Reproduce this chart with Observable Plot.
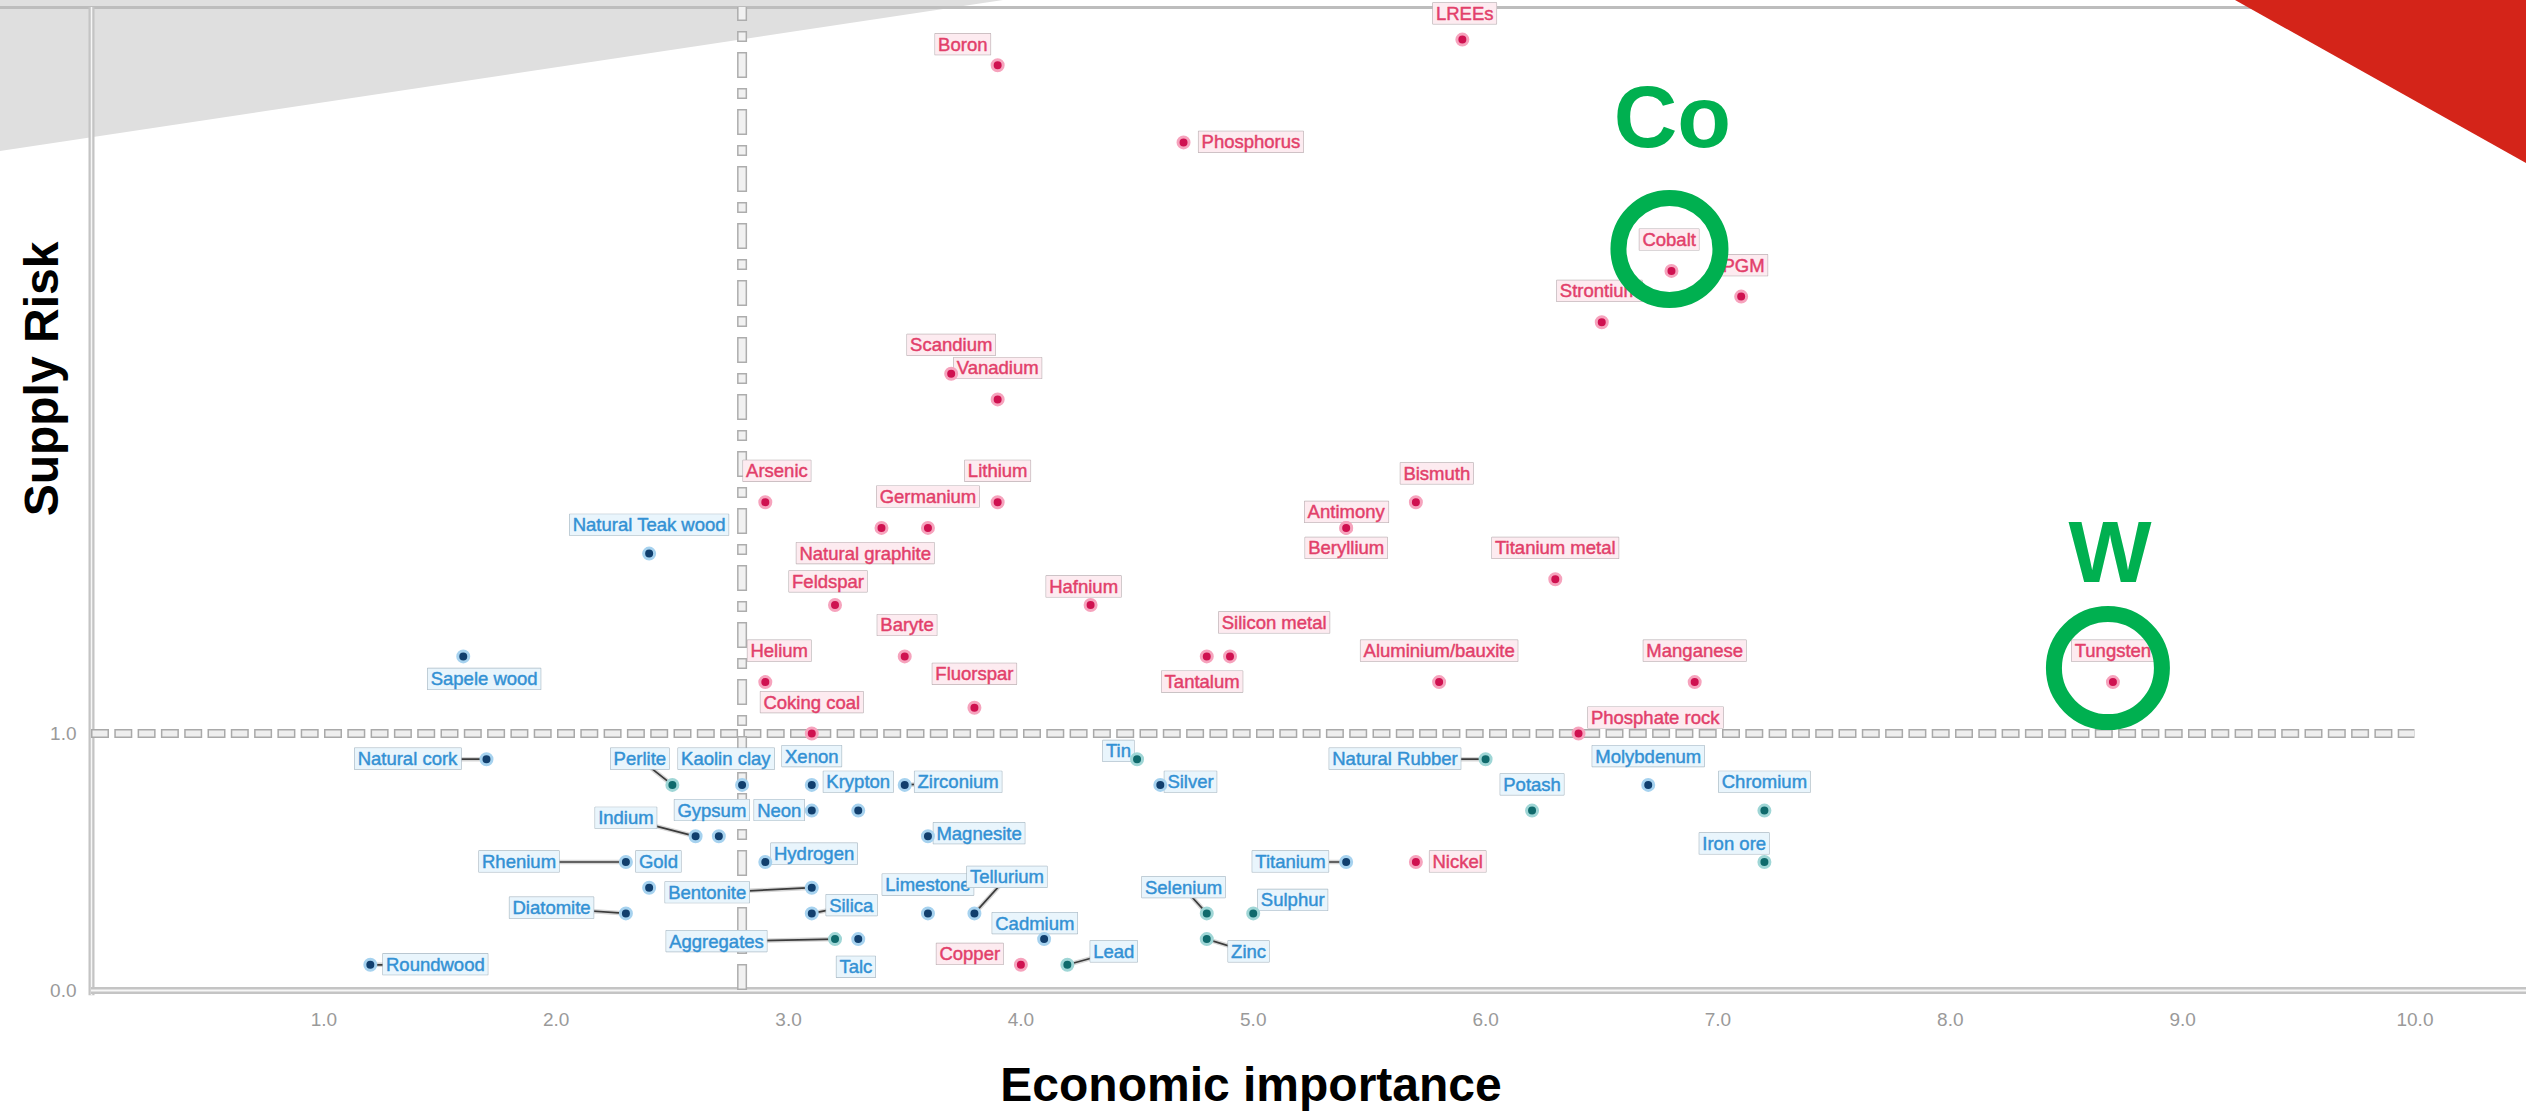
<!DOCTYPE html>
<html>
<head>
<meta charset="utf-8">
<script src="https://cdn.jsdelivr.net/npm/d3@7"></script>
<script src="https://cdn.jsdelivr.net/npm/@observablehq/plot@0.6"></script>
<style>
html, body { margin: 0; padding: 0; background: #fff; }
#wrap { position: relative; width: 2526px; height: 1114px; overflow: hidden; background: #fff; }
#grayTri { position: absolute; left: 0; top: 0; width: 1003px; height: 151px; background: #dfdfdf; clip-path: polygon(0 0, 100% 0, 0 100%); z-index: 0; }
#topLine { position: absolute; left: 0; top: 6px; width: 2526px; height: 3px; background: #bdbdbd; z-index: 1; }
#chart { position: absolute; left: 0; top: 0; z-index: 2; }
#redTri { position: absolute; right: 0; top: 0; width: 291px; height: 163px; background: #d42419; clip-path: polygon(0 0, 100% 0, 100% 100%); z-index: 3; }
</style>
</head>
<body>
<div id="wrap">
  <div id="grayTri"></div>
  <div id="topLine"></div>
  <div id="chart"></div>
  <div id="redTri"></div>
</div>
<script>
// ---------------- data ----------------
const criticalMaterials = ["LREEs","Boron","Phosphorus","Cobalt","PGM","Strontium","Scandium","Vanadium","Arsenic","Lithium","Germanium","Natural graphite","Feldspar","Hafnium","Baryte","Helium","Fluorspar","Coking coal","Bismuth","Antimony","Beryllium","Titanium metal","Silicon metal","Tantalum","Aluminium/bauxite","Manganese","Tungsten","Phosphate rock","Copper","Nickel"];
const otherMaterials = ["Natural Teak wood","Sapele wood","Natural cork","Perlite","Kaolin clay","Xenon","Krypton","Zirconium","Neon","Gypsum","Indium","Magnesite","Rhenium","Gold","Hydrogen","Bentonite","Silica","Diatomite","Limestone","Tellurium","Cadmium","Aggregates","Talc","Roundwood","Lead","Tin","Silver","Titanium","Selenium","Sulphur","Zinc","Natural Rubber","Potash","Molybdenum","Chromium","Iron ore"];
const materials = [...criticalMaterials, ...otherMaterials];

const economicImportance = [
  5.9, 3.9, 4.7, 6.8, 7.1, 6.5, 3.7, 3.9, 2.9, 3.9, 3.6, 3.4, 3.2, 4.3, 3.5, 2.9, 3.8, 3.1, 5.7, 5.4, 5.4, 6.3, 4.9, 4.8, 5.8, 6.9, 8.7, 6.4, 4.0, 5.7,
  2.4, 1.6, 1.7, 2.5, 2.8, 3.1, 3.3, 3.5, 3.1, 2.7, 2.6, 3.6, 2.3, 2.4, 2.9, 3.1, 3.1, 2.3, 3.6, 3.8, 4.1, 3.2, 3.3, 1.2, 4.2, 4.5, 4.6, 5.4, 4.8, 5.0, 4.8, 6.0, 6.2, 6.7, 7.2, 7.2
];
const supplyRisk = [
  3.7, 3.6, 3.3, 2.8, 2.7, 2.6, 2.4, 2.3, 1.9, 1.9, 1.8, 1.8, 1.5, 1.5, 1.3, 1.2, 1.1, 1.0, 1.9, 1.8, 1.8, 1.6, 1.3, 1.3, 1.2, 1.2, 1.2, 1.0, 0.1, 0.5,
  1.7, 1.3, 0.9, 0.8, 0.8, 0.8, 0.7, 0.8, 0.7, 0.6, 0.6, 0.6, 0.5, 0.4, 0.5, 0.4, 0.3, 0.3, 0.3, 0.3, 0.2, 0.2, 0.2, 0.1, 0.1, 0.9, 0.8, 0.5, 0.3, 0.3, 0.2, 0.9, 0.7, 0.8, 0.7, 0.5
];
// label anchor points (in data units: economic importance, supply risk)
const labelEI = [
  5.91, 3.75, 4.99, 6.79, 7.11, 6.49, 3.70, 3.90, 2.95, 3.90, 3.60, 3.33, 3.17, 4.27, 3.51, 2.96, 3.80, 3.10, 5.79, 5.40, 5.40, 6.30, 5.09, 4.78, 5.80, 6.90, 8.70, 6.73, 3.78, 5.88,
  2.40, 1.69, 1.36, 2.36, 2.73, 3.10, 3.30, 3.73, 2.96, 2.67, 2.30, 3.82, 1.84, 2.44, 3.11, 2.65, 3.27, 1.98, 3.60, 3.94, 4.06, 2.69, 3.29, 1.48, 4.40, 4.42, 4.73, 5.16, 4.70, 5.17, 4.98, 5.61, 6.20, 6.70, 7.20, 7.07
];
const labelSR = [
  3.80, 3.68, 3.30, 2.92, 2.82, 2.72, 2.51, 2.42, 2.02, 2.02, 1.92, 1.70, 1.59, 1.57, 1.42, 1.32, 1.23, 1.12, 2.01, 1.86, 1.72, 1.72, 1.43, 1.20, 1.32, 1.32, 1.32, 1.06, 0.14, 0.50,
  1.81, 1.21, 0.90, 0.90, 0.90, 0.91, 0.81, 0.81, 0.70, 0.70, 0.67, 0.61, 0.50, 0.50, 0.53, 0.38, 0.33, 0.32, 0.41, 0.44, 0.26, 0.19, 0.09, 0.10, 0.15, 0.93, 0.81, 0.50, 0.40, 0.35, 0.15, 0.90, 0.80, 0.91, 0.81, 0.57
];
const leaderLabels = ["Natural cork","Perlite","Zirconium","Neon","Indium","Rhenium","Hydrogen","Bentonite","Silica","Diatomite","Tellurium","Aggregates","Roundwood","Lead","Titanium","Selenium","Zinc","Natural Rubber"];
const thresholdEI = 2.8;
const thresholdSR = 1.0;
const xTicks = [1, 2, 3, 4, 5, 6, 7, 8, 9, 10];
const yTicks = [0, 1];
const highlighted = ["Cobalt", "Tungsten"];
const highlightText = ["Co", "W"];

// ---------------- styling ----------------
const tealDots = new Set(["Perlite","Potash","Chromium","Iron ore","Selenium","Lead","Zinc","Natural Rubber","Sulphur","Aggregates","Tin"]);
const rows = materials.map((name, i) => ({
  name,
  ei: economicImportance[i],
  sr: supplyRisk[i],
  critical: criticalMaterials.includes(name),
  lx: labelEI[i],
  ly: labelSR[i],
  leader: leaderLabels.includes(name)
}));
const core = d => d.critical ? "#cf1150" : (tealDots.has(d.name) ? "#0f6a6c" : "#113f6e");
const halo = d => d.critical ? "#f6a3bd" : (tealDots.has(d.name) ? "#9fd6d6" : "#a6d2ef");
const green = "#00b050";
const redText = "#e23f6a";
const blueText = "#3391d4";

const cobalt = rows.filter(d => d.name === highlighted[0]);
const tungsten = rows.filter(d => d.name === highlighted[1]);

const chart = Plot.plot({
  width: 2526,
  height: 1114,
  marginLeft: 91,
  marginRight: 0,
  marginTop: 7,
  marginBottom: 124,
  x: {domain: [0, 10.48]},
  y: {domain: [0, 3.825]},
  color: {type: "identity"},
  style: {background: "transparent", fontFamily: "'Liberation Sans', Arial, sans-serif", overflow: "visible"},
  marks: [
    // frame lines
    Plot.ruleX([0], {y1: -0.02, y2: 3.825, stroke: "#c4c4c4", strokeWidth: 6}),
    Plot.ruleX([0], {y1: -0.02, y2: 3.825, stroke: "#f6f6f6", strokeWidth: 1.5}),
    Plot.ruleY([0], {x1: 0, x2: 10.48, stroke: "#c4c4c4", strokeWidth: 7}),
    Plot.ruleY([0], {x1: 0, x2: 10.48, stroke: "#f6f6f6", strokeWidth: 2}),
    // threshold lines
    Plot.ruleY([thresholdSR], {x1: 0, x2: 10, stroke: "#a9a9a9", strokeWidth: 9, strokeDasharray: "18 5.3"}),
    Plot.ruleY([thresholdSR], {x1: 0, x2: 10, stroke: "#eeeeee", strokeWidth: 6, strokeDasharray: "15 8.3", strokeDashoffset: -1.5}),
    Plot.ruleX([thresholdEI], {y1: 0, y2: 3.825, stroke: "#adadad", strokeWidth: 10, strokeDasharray: "26 10 11 10"}),
    Plot.ruleX([thresholdEI], {y1: 0, y2: 3.825, stroke: "#f1f1f1", strokeWidth: 7, strokeDasharray: "23 13 8 13", strokeDashoffset: -1.5}),
    // axes
    Plot.axisX({ticks: xTicks, tickSize: 0, tickPadding: 22, tickFormat: d => d.toFixed(1), fontSize: 19, fill: "#9a9a9a", label: null}),
    Plot.axisY({ticks: yTicks, tickSize: 0, tickPadding: 15, tickFormat: d => d.toFixed(1), fontSize: 19, fill: "#9a9a9a", label: null}),
    // leader lines
    Plot.link(rows.filter(d => d.leader), {x1: "ei", y1: "sr", x2: "lx", y2: "ly", stroke: "#d6d6d6", strokeWidth: 4.5}),
    Plot.link(rows.filter(d => d.leader), {x1: "ei", y1: "sr", x2: "lx", y2: "ly", stroke: "#3b3b3b", strokeWidth: 1.7}),
    // labels
    Plot.text(rows.filter(d => d.critical), {x: "lx", y: "ly", text: "name", fill: redText, stroke: redText, strokeWidth: 0.45, fontSize: 18.5}),
    Plot.text(rows.filter(d => !d.critical), {x: "lx", y: "ly", text: "name", fill: blueText, stroke: blueText, strokeWidth: 0.45, fontSize: 18.5}),
    // points
    Plot.dot(rows, {x: "ei", y: "sr", r: 5.5, fill: core, stroke: halo, strokeWidth: 3}),
    // highlights
    Plot.dot(cobalt, {x: "ei", y: "sr", r: 51, dx: -2, dy: -22, fill: "none", stroke: green, strokeWidth: 16}),
    Plot.dot(tungsten, {x: "ei", y: "sr", r: 54, dx: -5, dy: -14, fill: "none", stroke: green, strokeWidth: 16}),
    Plot.text(cobalt, {x: "ei", y: "sr", text: () => highlightText[0], dx: 1, dy: -152, fontSize: 88, fontWeight: "bold", fill: green}),
    Plot.text(tungsten, {x: "ei", y: "sr", text: () => highlightText[1], dx: -3, dy: -128, fontSize: 88, fontWeight: "bold", fill: green}),
    // axis titles
    Plot.text(["Economic importance"], {frameAnchor: "bottom", textAnchor: "middle", lineAnchor: "middle", dx: -58, dy: 95, fontSize: 48, fontWeight: "bold", fill: "#000"}),
    Plot.text(["Supply Risk"], {frameAnchor: "left", textAnchor: "middle", lineAnchor: "middle", rotate: -90, dx: -49, dy: -120, fontSize: 48, fontWeight: "bold", fill: "#000"})
  ]
});

document.getElementById("chart").append(chart);

// label boxes behind label text
const critSet = new Set(criticalMaterials);
const nameSet = new Set(materials);
Array.from(chart.querySelectorAll("text")).forEach(t => {
  const name = t.textContent;
  if (!nameSet.has(name)) return;
  const crit = critSet.has(name);
  const b = t.getBBox();
  const r = document.createElementNS("http://www.w3.org/2000/svg", "rect");
  r.setAttribute("x", b.x - 3);
  r.setAttribute("y", b.y);
  r.setAttribute("width", b.width + 6);
  r.setAttribute("height", b.height);
  r.setAttribute("fill", crit ? "#fdebf0" : "#e9f5fc");
  r.setAttribute("stroke", crit ? "#b8aeb1" : "#a6b6c1");
  r.setAttribute("stroke-width", 1.2);
  const tr = t.getAttribute("transform");
  if (tr) r.setAttribute("transform", tr);
  t.parentNode.insertBefore(r, t);
});
</script>
</body>
</html>
